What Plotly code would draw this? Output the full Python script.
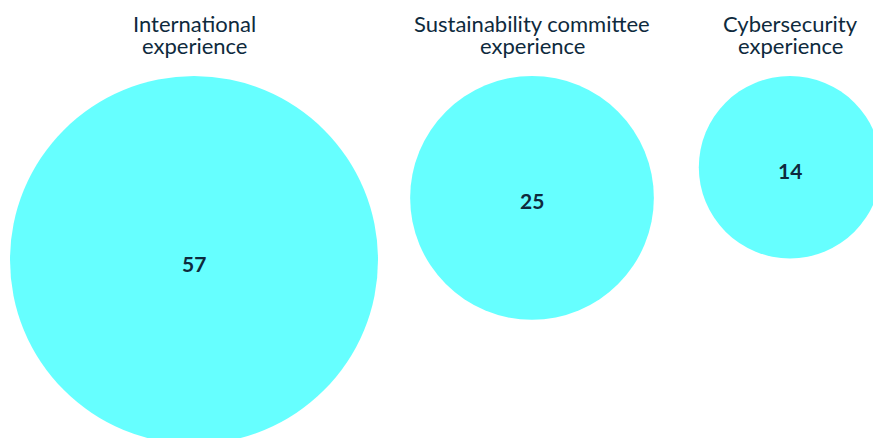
import math
import plotly.graph_objects as go

# ---- data ----
categories = ["International<br>experience", "Sustainability committee<br>experience", "Cybersecurity<br>experience"]
values = [57, 25, 14]

# ---- layout constants ----
W, H = 873, 438
centers_x = [194, 532, 790]
top_y = 76
radius_scale = 184 / math.sqrt(57)
fill = "#66FFFF"
ink = "#0E2A3D"
font_family = "Lato, 'Open Sans', sans-serif"

radii = [radius_scale * math.sqrt(v) for v in values]
centers_y = [top_y + r for r in radii]

fig = go.Figure()
fig.add_trace(go.Scatter(
    x=centers_x, y=centers_y, mode="markers",
    marker=dict(size=[2 * r for r in radii], sizemode="diameter", color=fill,
                line=dict(width=0), opacity=1),
    hoverinfo="skip", cliponaxis=False,
))

for cx, cy, v in zip(centers_x, centers_y, values):
    fig.add_annotation(x=cx, y=cy, text=f"<b>{v}</b>", showarrow=False,
                       xanchor="center", yanchor="middle", yshift=-3,
                       font=dict(family=font_family, size=21, color=ink))

for cx, label in zip(centers_x, categories):
    lines = label.split("<br>")
    for i, line in enumerate(lines):
        fig.add_annotation(x=cx, y=23 + 22 * i, text=line, showarrow=False,
                           xanchor="center", yanchor="middle",
                           font=dict(family=font_family, size=22, color=ink))

fig.update_layout(
    width=W, height=H, margin=dict(l=0, r=0, t=0, b=0),
    paper_bgcolor="white", plot_bgcolor="white", showlegend=False,
    xaxis=dict(range=[0, W], visible=False, fixedrange=True),
    yaxis=dict(range=[H, 0], visible=False, fixedrange=True),
)
fig.write_html("out.html", config={"displayModeBar": False})
